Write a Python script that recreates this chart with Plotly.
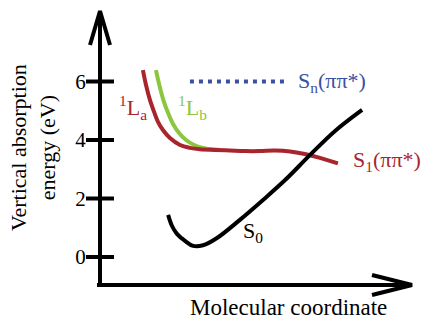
import plotly.graph_objects as go

# ---- data (molecular coordinate in arbitrary units, energy in eV) ----
s1_x = [1.65, 1.77, 1.92, 2.08, 2.23, 2.42, 2.69, 3.08, 3.46, 3.85, 4.42, 5.00, 5.58, 6.15, 6.73, 7.31, 7.88, 8.46, 9.15]
s1_y = [6.39, 5.88, 5.37, 4.96, 4.62, 4.34, 4.07, 3.83, 3.73, 3.68, 3.66, 3.64, 3.62, 3.62, 3.64, 3.61, 3.52, 3.39, 3.20]

lb_x = [2.15, 2.31, 2.46, 2.62, 2.81, 3.04, 3.31, 3.62, 3.96, 4.31, 4.62]
lb_y = [6.39, 5.78, 5.30, 4.92, 4.55, 4.24, 4.00, 3.83, 3.73, 3.68, 3.66]

s0_x = [2.62, 2.77, 2.96, 3.27, 3.58, 3.96, 4.50, 5.38, 6.27, 7.12, 8.08, 9.04, 10.08]
s0_y = [1.44, 1.06, 0.79, 0.55, 0.38, 0.40, 0.65, 1.27, 1.95, 2.63, 3.49, 4.31, 5.03]

sn_x = [3.46, 7.19]
sn_y = [6.0, 6.0]

tick_vals = [0, 2, 4, 6]
tick_text = ["0", "2", "4", "6"]

FONT = "Liberation Serif, Times New Roman, Times, serif"
RED = "#a9252d"
GREEN = "#8cc63f"
BLUE = "#3b50a3"

W, H = 425, 321
PX_PER_Q = 26.0
PX_PER_E = 29.25
X0_PX, Y0_PX = 100.0, 257.0


def qx(px):
    return (px - X0_PX) / PX_PER_Q


def ey(py):
    return (Y0_PX - py) / PX_PER_E


fig = go.Figure()

# axes with open arrowheads
ax_x = [0, 0, None, qx(97), qx(412), None, qx(90), 0, qx(110), None, qx(372), qx(412), qx(372)]
ax_y = [ey(287), ey(12), None, ey(285), ey(285), None, ey(45), ey(11), ey(45), None, ey(275), ey(285), ey(295)]
fig.add_trace(go.Scatter(x=ax_x, y=ax_y, mode="lines", line=dict(color="black", width=4),
                         hoverinfo="skip", showlegend=False))
# tick marks crossing the axis
fig.add_trace(go.Scatter(x=[0] * len(tick_vals), y=tick_vals, mode="markers",
                         marker=dict(symbol="line-ew", size=20, line=dict(width=4, color="black")),
                         hoverinfo="skip", showlegend=False))

# curves
fig.add_trace(go.Scatter(x=lb_x, y=lb_y, mode="lines", line=dict(color=GREEN, width=4, shape="spline"),
                         showlegend=False))
fig.add_trace(go.Scatter(x=s1_x, y=s1_y, mode="lines", line=dict(color=RED, width=4, shape="spline"),
                         showlegend=False))
fig.add_trace(go.Scatter(x=s0_x, y=s0_y, mode="lines", line=dict(color="black", width=4, shape="spline"),
                         showlegend=False))
fig.add_trace(go.Scatter(x=sn_x, y=sn_y, mode="lines", line=dict(color=BLUE, width=4, dash="4px,5px"),
                         showlegend=False))

LFS = 22
labels = [
    ("<sup>1</sup>L<sub>a</sub>", qx(117), ey(107), RED),
    ("<sup>1</sup>L<sub>b</sub>", qx(176), ey(107), GREEN),
    ("S<sub>n</sub>(ππ*)", qx(296), ey(82), BLUE),
    ("S<sub>1</sub>(ππ*)", qx(351), ey(161), RED),
    ("S<sub>0</sub>", qx(241), ey(232), "black"),
]
for txt, x, y, c in labels:
    fig.add_annotation(x=x, y=y, xref="x", yref="y", text=txt, showarrow=False,
                       xanchor="left", yanchor="middle", font=dict(family=FONT, size=LFS, color=c))

fig.add_annotation(x=288 / W, y=1 - 307 / H, xref="paper", yref="paper", text="Molecular coordinate",
                   showarrow=False, xanchor="center", yanchor="middle",
                   font=dict(family=FONT, size=23, color="black"))
fig.add_annotation(x=33 / W, y=1 - 148 / H, xref="paper", yref="paper",
                   text="Vertical absorption<br>energy (eV)", textangle=-90,
                   showarrow=False, xanchor="center", yanchor="middle",
                   font=dict(family=FONT, size=22, color="black"))

fig.update_layout(
    width=W, height=H, autosize=False,
    margin=dict(l=0, r=0, t=0, b=0),
    paper_bgcolor="white", plot_bgcolor="white",
    font=dict(family=FONT),
    xaxis=dict(range=[qx(0), qx(W)], visible=False),
    yaxis=dict(range=[ey(H), ey(0)], anchor="free", position=X0_PX / W,
               showgrid=False, zeroline=False, showline=False,
               ticks="outside", ticklen=10, tickcolor="rgba(0,0,0,0)",
               tickvals=tick_vals, ticktext=tick_text,
               tickfont=dict(family=FONT, size=21, color="black")),
)

fig.write_html("out.html")
